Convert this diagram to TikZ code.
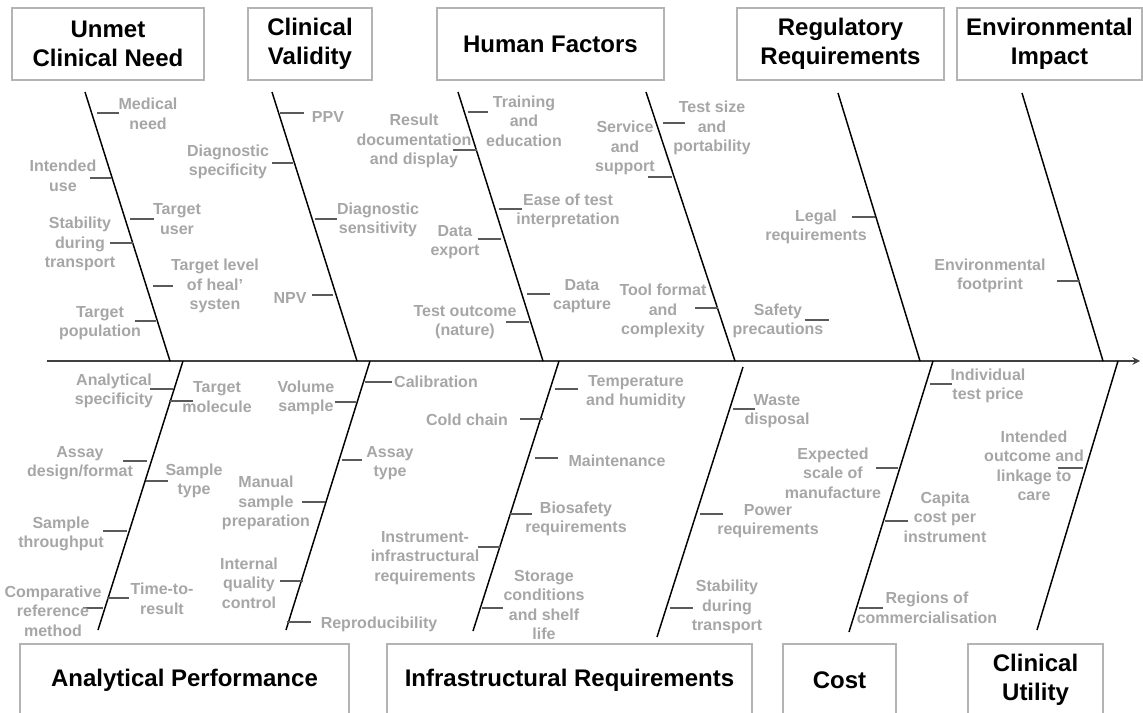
\documentclass[tikz,border=0pt]{standalone}
\usepackage{fontspec}
\setmainfont{Liberation Sans}
\definecolor{boxline}{HTML}{B4B4B4}
\definecolor{itemtext}{HTML}{A6A6A6}
\definecolor{ribline}{HTML}{5A5A5A}
\definecolor{spineline}{HTML}{404040}
\tikzset{
  cause/.style={draw=boxline, line width=1.5pt, align=center, minimum height=54pt, inner sep=0pt,
                font=\fontsize{18}{21.4}\selectfont\bfseries},
  item/.style={text=itemtext, align=center, inner sep=0pt, font=\fontsize{12}{14.6}\selectfont\bfseries},
  bone/.style={draw=black, line width=1.1pt},
  rib/.style={draw=ribline, line width=0.8pt},
  spine/.style={->, >=stealth, draw=spineline, line width=1.5pt},
}

\begin{document}
\begin{tikzpicture}[x=0.75pt, y=-0.75pt]
  \useasboundingbox (0,0) rectangle (1143,713);
  \clip (0,0) rectangle (1143,713);
  % Cause boxes, top row
  \node[cause, minimum width=144pt] (need) at (108,44) {Unmet\\Clinical Need};
  \node[cause, minimum width=93pt] (validity) at (310,44) {Clinical\\Validity};
  \node[cause, minimum width=170.25pt] (human) at (550.5,44) {Human Factors};
  \node[cause, minimum width=155.25pt] (regulatory) at (840.5,44) {Regulatory\\Requirements};
  \node[cause, minimum width=138.75pt] (environment) at (1049.5,44) {Environmental\\Impact};
  % Cause boxes, bottom row
  \node[cause, minimum width=246.75pt] (analytical) at (184.5,680) {Analytical Performance};
  \node[cause, minimum width=273.75pt] (infrastructure) at (569.5,680) {Infrastructural Requirements};
  \node[cause, minimum width=84.75pt] (cost) at (839.5,680) {Cost};
  \node[cause, minimum width=101.25pt] (utility) at (1035.5,680) {Clinical\\Utility};
  % Spine and bones
  \coordinate (tail) at (47,361);
  \coordinate (head) at (1140,361);
  \draw[spine] (tail) -- (head);
  \foreach \i/\xa/\ya/\xb/\yb in {1/85/92/170/361, 2/272/92/357/361, 3/458/92/543/361,
      4/646/92/735/361, 5/838/93/920/361, 6/1022/93/1103/361,
      7/183/361/98/630, 8/370/361/286/630, 9/559/361/473/631,
      10/743/367/657/637, 11/933/361/849/632, 12/1118/361/1037/630}{
    \coordinate (bs\i) at (\xa,\ya); \coordinate (be\i) at (\xb,\yb);
    \draw[bone] (bs\i) -- (be\i);}
  % Ribs
  \foreach \xa/\xb/\y in {97/119/113, 90/111/178, 130/154/219, 110/133/243, 153/173/286, 135/156/321,
      280/304/113, 272/293/163, 315/337/219, 312/333/295,
      468/488/112, 453/477/150, 499/522/209, 478/501/239, 527/550/294, 506/529/322,
      663/685/123, 648/672/177, 695/718/308, 852/875/217, 1057/1080/281, 805/829/320,
      150/173/389, 169/193/401, 123/147/461, 146/168/481, 103/127/531, 107/129/598, 83/103/608,
      335/356/402, 365/392/382, 302/325/502, 342/362/460, 280/303/581, 287/311/622,
      555/578/389, 520/543/419, 535/558/458, 510/532/514, 478/500/547, 482/503/608,
      733/755/409, 700/723/514, 670/693/608,
      930/952/384, 876/898/468, 885/908/521, 859/883/608, 1058/1083/468}
    \draw[rib] (\xa,\y) -- (\xb,\y);
  % Items above the spine
  \node[item] (medical) at (148,114) {Medical\\need};
  \node[item] (intended) at (63,176) {Intended\\use};
  \node[item] (user) at (177,219) {Target\\user};
  \node[item] (stabilityup) at (80,244) {Stability\\during\\transport};
  \node[item] (level) at (215,286) {Target level\\of heal'\\systen};
  \node[item] (population) at (100,323) {Target\\population};
  \node[item] (ppv) at (328,117) {PPV};
  \node[item] (specificity) at (228,162) {Diagnostic\\specificity};
  \node[item] (sensitivity) at (378,220) {Diagnostic\\sensitivity};
  \node[item] (npv) at (290,298) {NPV};
  \node[item] (training) at (524,121) {Training\\and\\education};
  \node[item] (result) at (414,141) {Result\\documentation\\and display};
  \node[item] (ease) at (568,211) {Ease of test\\interpretation};
  \node[item] (export) at (455,242) {Data\\export};
  \node[item] (capture) at (582,296) {Data\\capture};
  \node[item] (outcome) at (465,322) {Test outcome\\(nature)};
  \node[item] (size) at (712,128) {Test size\\and\\portability};
  \node[item] (service) at (625,148) {Service\\and\\support};
  \node[item] (format) at (663,311) {Tool format\\and\\complexity};
  \node[item] (legal) at (816,227) {Legal\\requirements};
  \node[item] (footprint) at (990,276) {Environmental\\footprint};
  \node[item] (safety) at (778,321) {Safety\\precautions};
  % Items below the spine
  \node[item] (aspecificity) at (114,391) {Analytical\\specificity};
  \node[item] (molecule) at (217,397) {Target\\molecule};
  \node[item] (volume) at (306,398) {Volume\\sample};
  \node[item] (design) at (80,463) {Assay\\design/format};
  \node[item] (sampletype) at (194,481) {Sample\\type};
  \node[item] (manual) at (266,503) {Manual\\sample\\preparation};
  \node[item] (throughput) at (61,534) {Sample\\throughput};
  \node[item] (quality) at (249,583) {Internal\\quality\\control};
  \node[item] (comparative) at (53,611) {Comparative\\reference\\method};
  \node[item] (time) at (162,599) {Time-to-\\result};
  \node[item] (reproducibility) at (379,624) {Reproducibility};
  \node[item] (calibration) at (436,382) {Calibration};
  \node[item] (cold) at (467,420) {Cold chain};
  \node[item] (assaytype) at (390,463) {Assay\\type};
  \node[item] (temperature) at (636,392) {Temperature\\and humidity};
  \node[item] (maintenance) at (617,461) {Maintenance};
  \node[item] (biosafety) at (576,519) {Biosafety\\requirements};
  \node[item] (instrument) at (425,558) {Instrument-\\infrastructural\\requirements};
  \node[item] (storage) at (544,605) {Storage\\conditions\\and shelf\\life};
  \node[item] (waste) at (777,411) {Waste\\disposal};
  \node[item] (power) at (768,521) {Power\\requirements};
  \node[item] (stabilitydown) at (727,607) {Stability\\during\\transport};
  \node[item] (price) at (988,386) {Individual\\test price};
  \node[item] (scale) at (833,473) {Expected\\scale of\\manufacture};
  \node[item] (capita) at (945,517) {Capita\\cost per\\instrument};
  \node[item] (regions) at (927,608) {Regions of\\commercialisation};
  \node[item] (linkage) at (1034,466) {Intended\\outcome and\\linkage to\\care};
\end{tikzpicture}
\end{document}
